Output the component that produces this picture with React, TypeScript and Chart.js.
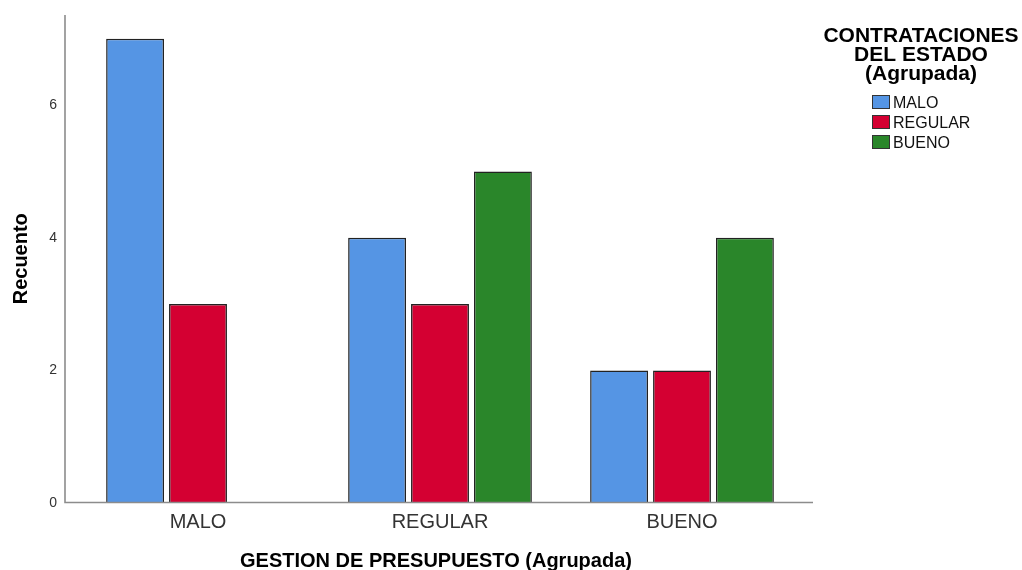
import React, { useEffect, useRef } from "react";
import { Chart, registerables } from "chart.js";
Chart.register(...registerables);

const categories = ["MALO", "REGULAR", "BUENO"];
const seriesNames = ["MALO", "REGULAR", "BUENO"];
const maloValues = [7, 4, 2];
const regularValues = [3, 3, 2];
const buenoValues = [0, 5, 4];
const yTicks = [0, 2, 4, 6];
const legendTitle = ["CONTRATACIONES", "DEL ESTADO", "(Agrupada)"];
const xTitle = "GESTION DE PRESUPUESTO (Agrupada)";
const yTitle = "Recuento";
const colors = ["#5595E4", "#D40032", "#2A862A"];

const FONT = "'Liberation Sans', Arial, sans-serif";

const decorations = {
  id: "decorations",
  afterDatasetsDraw(chart: any) {
    const ctx = chart.ctx as CanvasRenderingContext2D;
    const a = chart.chartArea;
    const y0 = Math.round(chart.scales.y.getPixelForValue(0)) - 0.5;
    const axisLeft = a.left - 12;
    const axisRight = a.right + 10;
    ctx.save();
    // axes
    ctx.strokeStyle = "#8c8c8c";
    ctx.lineWidth = 1.6;
    ctx.beginPath();
    ctx.moveTo(axisLeft, a.top);
    ctx.lineTo(axisLeft, y0);
    ctx.lineTo(axisRight, y0);
    ctx.stroke();

    // x title
    ctx.fillStyle = "#000";
    ctx.font = `bold 20px ${FONT}`;
    ctx.textAlign = "center";
    ctx.textBaseline = "alphabetic";
    ctx.fillText(xTitle, (axisLeft + axisRight) / 2 - 3, 567);

    // y title
    ctx.save();
    ctx.translate(21, (a.top + y0) / 2);
    ctx.rotate(-Math.PI / 2);
    ctx.textBaseline = "middle";
    ctx.fillText(yTitle, 0, 0);
    ctx.restore();

    // legend title
    ctx.font = `bold 20px ${FONT}`;
    ctx.textAlign = "center";
    ctx.textBaseline = "alphabetic";
    legendTitle.forEach((line, i) => {
      ctx.save();
      ctx.translate(921, 42 + i * 19);
      ctx.scale(1.05, 1);
      ctx.fillText(line, 0, 0);
      ctx.restore();
    });

    // legend items
    ctx.font = `16px ${FONT}`;
    ctx.textAlign = "left";
    seriesNames.forEach((name, i) => {
      const top = 95 + i * 20;
      ctx.fillStyle = colors[i];
      ctx.fillRect(872, top, 18, 14);
      ctx.strokeStyle = "#333";
      ctx.lineWidth = 1;
      ctx.strokeRect(872.5, top + 0.5, 17, 13);
      ctx.fillStyle = "#111";
      ctx.fillText(name, 893, top + 13);
    });
    ctx.restore();
  },
};

export default function App() {
  const ref = useRef<HTMLCanvasElement>(null);
  useEffect(() => {
    if (!ref.current) return;
    const chart = new Chart(ref.current, {
      type: "bar",
      data: {
        labels: categories,
        datasets: [maloValues, regularValues, buenoValues].map((d, i) => ({
          label: seriesNames[i],
          data: d,
          backgroundColor: colors[i],
          borderColor: "#222",
          borderWidth: 1.5,
          categoryPercentage: 0.78,
          barPercentage: 0.92,
        })),
      },
      options: {
        animation: false,
        responsive: false,
        devicePixelRatio: 1,
        layout: { padding: { left: 0, right: 219, top: 15, bottom: 0 } },
        plugins: { legend: { display: false }, tooltip: { enabled: false } },
        scales: {
          x: {
            offset: true,
            grid: { display: false, drawTicks: false },
            border: { display: false },
            ticks: {
              padding: 7,
              color: "#333",
              font: { family: FONT, size: 20, lineHeight: 1.2 },
            },
            afterFit: (s: any) => {
              s.height = 67;
              s.paddingLeft = 0;
              s.paddingRight = 0;
            },
          },
          y: {
            min: 0,
            max: 7.36,
            grid: { display: false, drawTicks: false },
            border: { display: false },
            ticks: {
              padding: 20,
              color: "#333",
              font: { family: FONT, size: 14 },
            },
            afterBuildTicks: (s: any) => {
              s.ticks = yTicks.map((v) => ({ value: v }));
            },
            afterFit: (s: any) => {
              s.width = 77;
              s.paddingTop = 0;
              s.paddingBottom = 0;
            },
          },
        },
      },
      plugins: [decorations],
    });
    return () => chart.destroy();
  }, []);
  return (
    <div style={{ position: "fixed", left: 0, top: 0, width: 1022, height: 570, background: "#fff" }}>
      <canvas ref={ref} width={1022} height={570} />
    </div>
  );
}
